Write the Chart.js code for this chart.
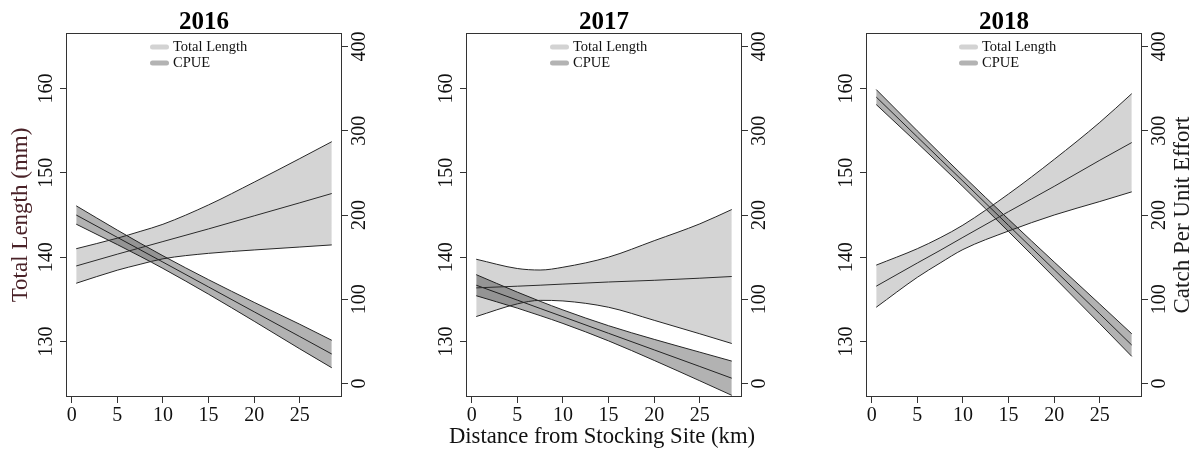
<!DOCTYPE html>
<html><head><meta charset="utf-8">
<script src="https://cdn.jsdelivr.net/npm/chart.js@4.4.1/dist/chart.umd.min.js"></script>
<style>
html,body{margin:0;padding:0;background:#fff;}
#wrap{position:relative;width:1194px;height:453px;overflow:hidden;background:#fff;}
#wrap canvas{position:absolute;top:0;}
</style></head><body>
<div id="wrap">
<canvas id="c0" width="400" height="453" style="left:0px"></canvas>
<canvas id="c1" width="400" height="453" style="left:400px"></canvas>
<canvas id="c2" width="394" height="453" style="left:800px"></canvas>
</div>
<script>
// ---- data ----
const years = ['2016', '2017', '2018'];
const seriesNames = ['Total Length', 'CPUE'];
const distanceKm = [0.5, 5, 7.5, 10, 15, 20, 25, 28.5];

const tl2016Fit   = [138.95, 140.35, 141.1, 141.85, 143.35, 144.9, 146.45, 147.55];
const tl2016Upper = [141.0, 142.25, 143.05, 143.9, 146.2, 148.9, 151.7, 153.7];
const tl2016Lower = [136.9, 138.45, 139.15, 139.8, 140.45, 140.85, 141.2, 141.45];
const cpue2016Fit   = [200, 173.5, 158.8, 144.1, 114.6, 85.1, 55.7, 35];
const cpue2016Upper = [210.9, 182.1, 166.6, 151.6, 123.2, 96.3, 70.3, 51.3];
const cpue2016Lower = [189.1, 164.9, 151.0, 136.6, 106.0, 73.9, 41.1, 18.7];

const tl2017Fit   = [136.35, 136.55, 136.67, 136.8, 137.05, 137.25, 137.5, 137.7];
const tl2017Upper = [139.75, 138.65, 138.47, 138.8, 140.0, 141.95, 143.95, 145.65];
const tl2017Lower = [132.95, 134.45, 134.87, 134.8, 134.05, 132.5, 130.9, 129.75];
const cpue2017Fit   = [116.7, 99.0, 89.1, 79.3, 59.6, 39.9, 20.2, 6.3];
const cpue2017Upper = [129.2, 108.5, 97.6, 87.3, 68.6, 52.4, 37.2, 26.6];
const cpue2017Lower = [104.2, 89.5, 80.6, 71.3, 50.6, 27.4, 3.2, -14.0];

const tl2018Fit   = [136.55, 139.3, 140.8, 142.35, 145.4, 148.4, 151.5, 153.6];
const tl2018Upper = [139.05, 141.0, 142.3, 143.8, 147.5, 151.6, 156.0, 159.4];
const tl2018Lower = [134.05, 137.6, 139.3, 140.9, 143.1, 145.0, 146.6, 147.75];
const cpue2018Fit   = [340, 292.7, 266.4, 240.2, 187.6, 135.1, 82.6, 45.6];
const cpue2018Upper = [348.9, 299.9, 273.1, 246.7, 194.9, 144.2, 94.2, 59.0];
const cpue2018Lower = [331.1, 285.5, 259.7, 233.7, 180.3, 126.0, 71.0, 32.2];

const distanceTicks = [0, 5, 10, 15, 20, 25];
const lengthTicks = [130, 140, 150, 160];
const cpueTicks = [0, 100, 200, 300, 400];

const xTitle = 'Distance from Stocking Site (km)';
const leftTitle = 'Total Length (mm)';
const rightTitle = 'Catch Per Unit Effort';

// ---- drawing ----
const FONT = '"Liberation Serif", "Times New Roman", serif';
const EDGE = '#262626';
const FIT = '#333333';

const panels = [
  { year: years[0], tl: [tl2016Lower, tl2016Upper, tl2016Fit], cpue: [cpue2016Lower, cpue2016Upper, cpue2016Fit],
    legendDx: 84, showLeft: true, showBottom: false, showRight: false },
  { year: years[1], tl: [tl2017Lower, tl2017Upper, tl2017Fit], cpue: [cpue2017Lower, cpue2017Upper, cpue2017Fit],
    legendDx: 84, showLeft: false, showBottom: true, showRight: false },
  { year: years[2], tl: [tl2018Lower, tl2018Upper, tl2018Fit], cpue: [cpue2018Lower, cpue2018Upper, cpue2018Fit],
    legendDx: 93, showLeft: false, showBottom: false, showRight: true }
];

function pts(ys) { return distanceKm.map((x, i) => ({ x: x, y: ys[i] })); }

function ds(label, ys, axis, fill, bg, color) {
  return { label: label, data: pts(ys), yAxisID: axis, borderColor: color, borderWidth: 1,
    pointRadius: 0, pointHoverRadius: 0, fill: fill, backgroundColor: bg,
    cubicInterpolationMode: 'monotone' };
}

function setTicks(list) { return s => { s.ticks = list.map(v => ({ value: v })); }; }

function decor(p) {
  return {
    id: 'decor',
    afterDraw(chart) {
      const ctx = chart.ctx, a = chart.chartArea;
      ctx.save();
      // frame
      ctx.strokeStyle = '#333'; ctx.lineWidth = 1;
      ctx.strokeRect(Math.round(a.left) + 0.5, Math.round(a.top) + 0.5,
                     Math.round(a.right - a.left) - 1, Math.round(a.bottom - a.top) - 1);
      // panel title
      ctx.fillStyle = '#000';
      ctx.font = 'bold 25px ' + FONT;
      ctx.textAlign = 'center'; ctx.textBaseline = 'middle';
      ctx.fillText(p.year, (a.left + a.right) / 2, 23);
      // legend
      const cols = ['#d3d3d3', '#b3b3b3'];
      const ly = [47, 63];
      const x0 = a.left + p.legendDx;
      ctx.lineCap = 'round'; ctx.lineWidth = 5;
      ctx.font = '14.5px ' + FONT; ctx.textAlign = 'left'; ctx.fillStyle = '#111';
      for (let i = 0; i < 2; i++) {
        ctx.strokeStyle = cols[i];
        ctx.beginPath(); ctx.moveTo(x0 + 2.5, ly[i]); ctx.lineTo(x0 + 16.5, ly[i]); ctx.stroke();
        ctx.fillText(seriesNames[i], x0 + 23, ly[i] + 0.5);
      }
      // bottom axis title
      if (p.showBottom) {
        ctx.font = '22.7px ' + FONT; ctx.textAlign = 'center'; ctx.fillStyle = '#111';
        ctx.fillText(xTitle, (a.left + a.right) / 2 - 2, 437);
      }
      // right axis title
      if (p.showRight) {
        ctx.translate(chart.width - 11, (a.top + a.bottom) / 2);
        ctx.rotate(-Math.PI / 2);
        ctx.font = '23px ' + FONT; ctx.textAlign = 'center'; ctx.fillStyle = '#1a1a1a';
        ctx.fillText(rightTitle, 0, 0);
      }
      ctx.restore();
    }
  };
}

function makeChart(id, p) {
  const canvas = document.getElementById(id);
  const W = canvas.width;
  const grid = { drawOnChartArea: false, drawTicks: true, tickLength: 6, color: '#333', lineWidth: 1 };
  return new Chart(canvas, {
    type: 'line',
    data: { datasets: [
      ds(seriesNames[0] + ' lower', p.tl[0], 'yL', false, 'transparent', EDGE),
      ds(seriesNames[0] + ' upper', p.tl[1], 'yL', '-1', 'rgba(0,0,0,0.17)', EDGE),
      ds(seriesNames[0], p.tl[2], 'yL', false, 'transparent', FIT),
      ds(seriesNames[1] + ' lower', p.cpue[0], 'yR', false, 'transparent', EDGE),
      ds(seriesNames[1] + ' upper', p.cpue[1], 'yR', '-1', 'rgba(0,0,0,0.30)', EDGE),
      ds(seriesNames[1], p.cpue[2], 'yR', false, 'transparent', FIT)
    ]},
    options: {
      responsive: false, animation: false, devicePixelRatio: 1,
      layout: { padding: { top: 33, left: 0, right: 0, bottom: 0 } },
      events: [],
      plugins: { legend: { display: false }, tooltip: { enabled: false }, title: { display: false } },
      scales: {
        x: {
          type: 'linear', position: 'bottom', min: -0.62, max: 29.62,
          afterBuildTicks: setTicks(distanceTicks), afterFit: s => { s.height = 56; },
          grid: grid, border: { display: false },
          ticks: { font: { family: FONT, size: 20 }, color: '#111', padding: 1, maxRotation: 0, minRotation: 0, autoSkip: false },
          title: { display: false, text: xTitle }
        },
        yL: {
          type: 'linear', position: 'left', min: 123.4, max: 166.6,
          afterBuildTicks: setTicks(lengthTicks), afterFit: s => { s.width = 66; },
          grid: grid, border: { display: false },
          ticks: { font: { family: FONT, size: 20 }, color: '#111', padding: -1.5, minRotation: 90, maxRotation: 90, crossAlign: 'center', autoSkip: false },
          title: { display: p.showLeft, text: leftTitle, font: { family: FONT, size: 23 }, color: '#4a2228', padding: { top: 7, bottom: 0 } }
        },
        yR: {
          type: 'linear', position: 'right', min: -16, max: 416,
          afterBuildTicks: setTicks(cpueTicks), afterFit: s => { s.width = W - 342; },
          grid: grid, border: { display: false },
          ticks: { font: { family: FONT, size: 20 }, color: '#111', padding: -3, minRotation: 90, maxRotation: 90, crossAlign: 'center', autoSkip: false }
        }
      }
    },
    plugins: [decor(p)]
  });
}

panels.forEach((p, i) => makeChart('c' + i, p));
</script>
</body></html>
